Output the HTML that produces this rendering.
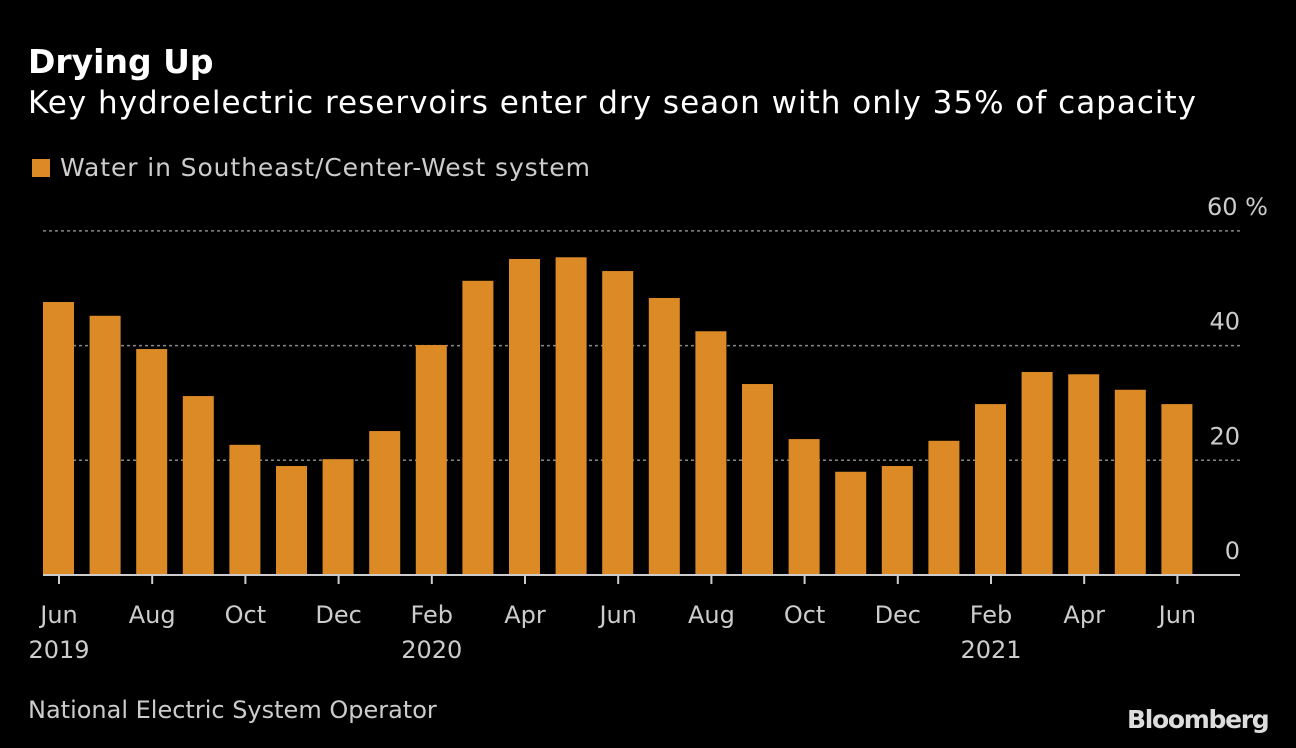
<!DOCTYPE html>
<html><head><meta charset="utf-8"><style>
body{margin:0;background:#000;width:1296px;height:748px;overflow:hidden;font-family:"DejaVu Sans","Liberation Sans",sans-serif;color:#ddd}
.t{position:absolute;white-space:nowrap}
</style></head><body>
<div class="t" style="left:28px;top:42px;font-size:33px;font-weight:bold;color:#fff">Drying Up</div>
<div class="t" style="left:28px;top:85px;font-size:31px;color:#fff;letter-spacing:1px">Key hydroelectric reservoirs enter dry seaon with only 35% of capacity</div>
<div class="t" style="left:32px;top:153px;font-size:25px;color:#ccc;letter-spacing:0.9px"><span style="display:inline-block;width:18px;height:18px;background:#dc8a26;margin-right:10px;vertical-align:-1px"></span>Water in Southeast/Center-West system</div>
<div class="t" style="left:28px;top:696px;font-size:24px;color:#ccc">National Electric System Operator</div>
<div class="t" style="left:1127px;top:705px;font-size:25px;font-weight:bold;color:#ddd;letter-spacing:-1.3px">Bloomberg</div>
<svg id="c" width="1296" height="748" style="position:absolute;left:0;top:0"></svg>
<script>
const months=["Jun","Jul","Aug","Sep","Oct","Nov","Dec","Jan","Feb","Mar","Apr","May","Jun","Jul","Aug","Sep","Oct","Nov","Dec","Jan","Feb","Mar","Apr","May","Jun"];
const values=[47.6,45.2,39.4,31.2,22.7,19.0,20.2,25.1,40.1,51.3,55.1,55.4,53.0,48.3,42.5,33.3,23.7,18.0,19.0,23.4,29.8,35.4,35.0,32.3,29.8];
const yTicks=[0,20,40,60];
const yTickLabels=["0","20","40","60 %"];
const yearLabels={0:"2019",8:"2020",20:"2021"};
const svg=document.getElementById('c');const NS="http://www.w3.org/2000/svg";
const x0=43,x1=1240,y0=575,ppu=5.735,step=46.6,bw=31;
const y=v=>y0-v*ppu, xc=i=>59+i*step;
function mk(t,a){const e=document.createElementNS(NS,t);for(const k in a)e.setAttribute(k,a[k]);svg.appendChild(e);return e;}
yTicks.forEach((t,i)=>{
 if(t>0){const l=mk('line',{x1:x0,x2:x1,y1:y(t),y2:y(t),stroke:'#888','stroke-dasharray':'3,3','stroke-width':1.5});
 
 }
 const tx=mk('text',{x:i==3?1268:1240,y:y(t)-16,'text-anchor':'end',fill:'#ccc','font-size':24,'font-family':'DejaVu Sans, Liberation Sans, sans-serif'});
 tx.textContent=yTickLabels[i];
 
 
});
values.forEach((v,i)=>{
 const r=mk('rect',{x:xc(i)-16,y:y(v),width:bw,height:y0-y(v),fill:'#dc8a26'});
 
 
});
const ax=mk('line',{x1:x0,x2:x1,y1:y0,y2:y0,stroke:'#ccc','stroke-width':2});


months.forEach((m,i)=>{
 if(i%2)return;
 const tk=mk('line',{x1:xc(i),x2:xc(i),y1:y0+1,y2:y0+9,stroke:'#ccc','stroke-width':2});
 
 
 const t=mk('text',{x:xc(i),y:623,'text-anchor':'middle',fill:'#ccc','font-size':24,'font-family':'DejaVu Sans, Liberation Sans, sans-serif'});
 t.textContent=m;
 
 
 if(yearLabels[i]){const yt=mk('text',{x:xc(i),y:658,'text-anchor':'middle',fill:'#ccc','font-size':24,'font-family':'DejaVu Sans, Liberation Sans, sans-serif'});
 yt.textContent=yearLabels[i];
 
 }
});
</script>
</body></html>
